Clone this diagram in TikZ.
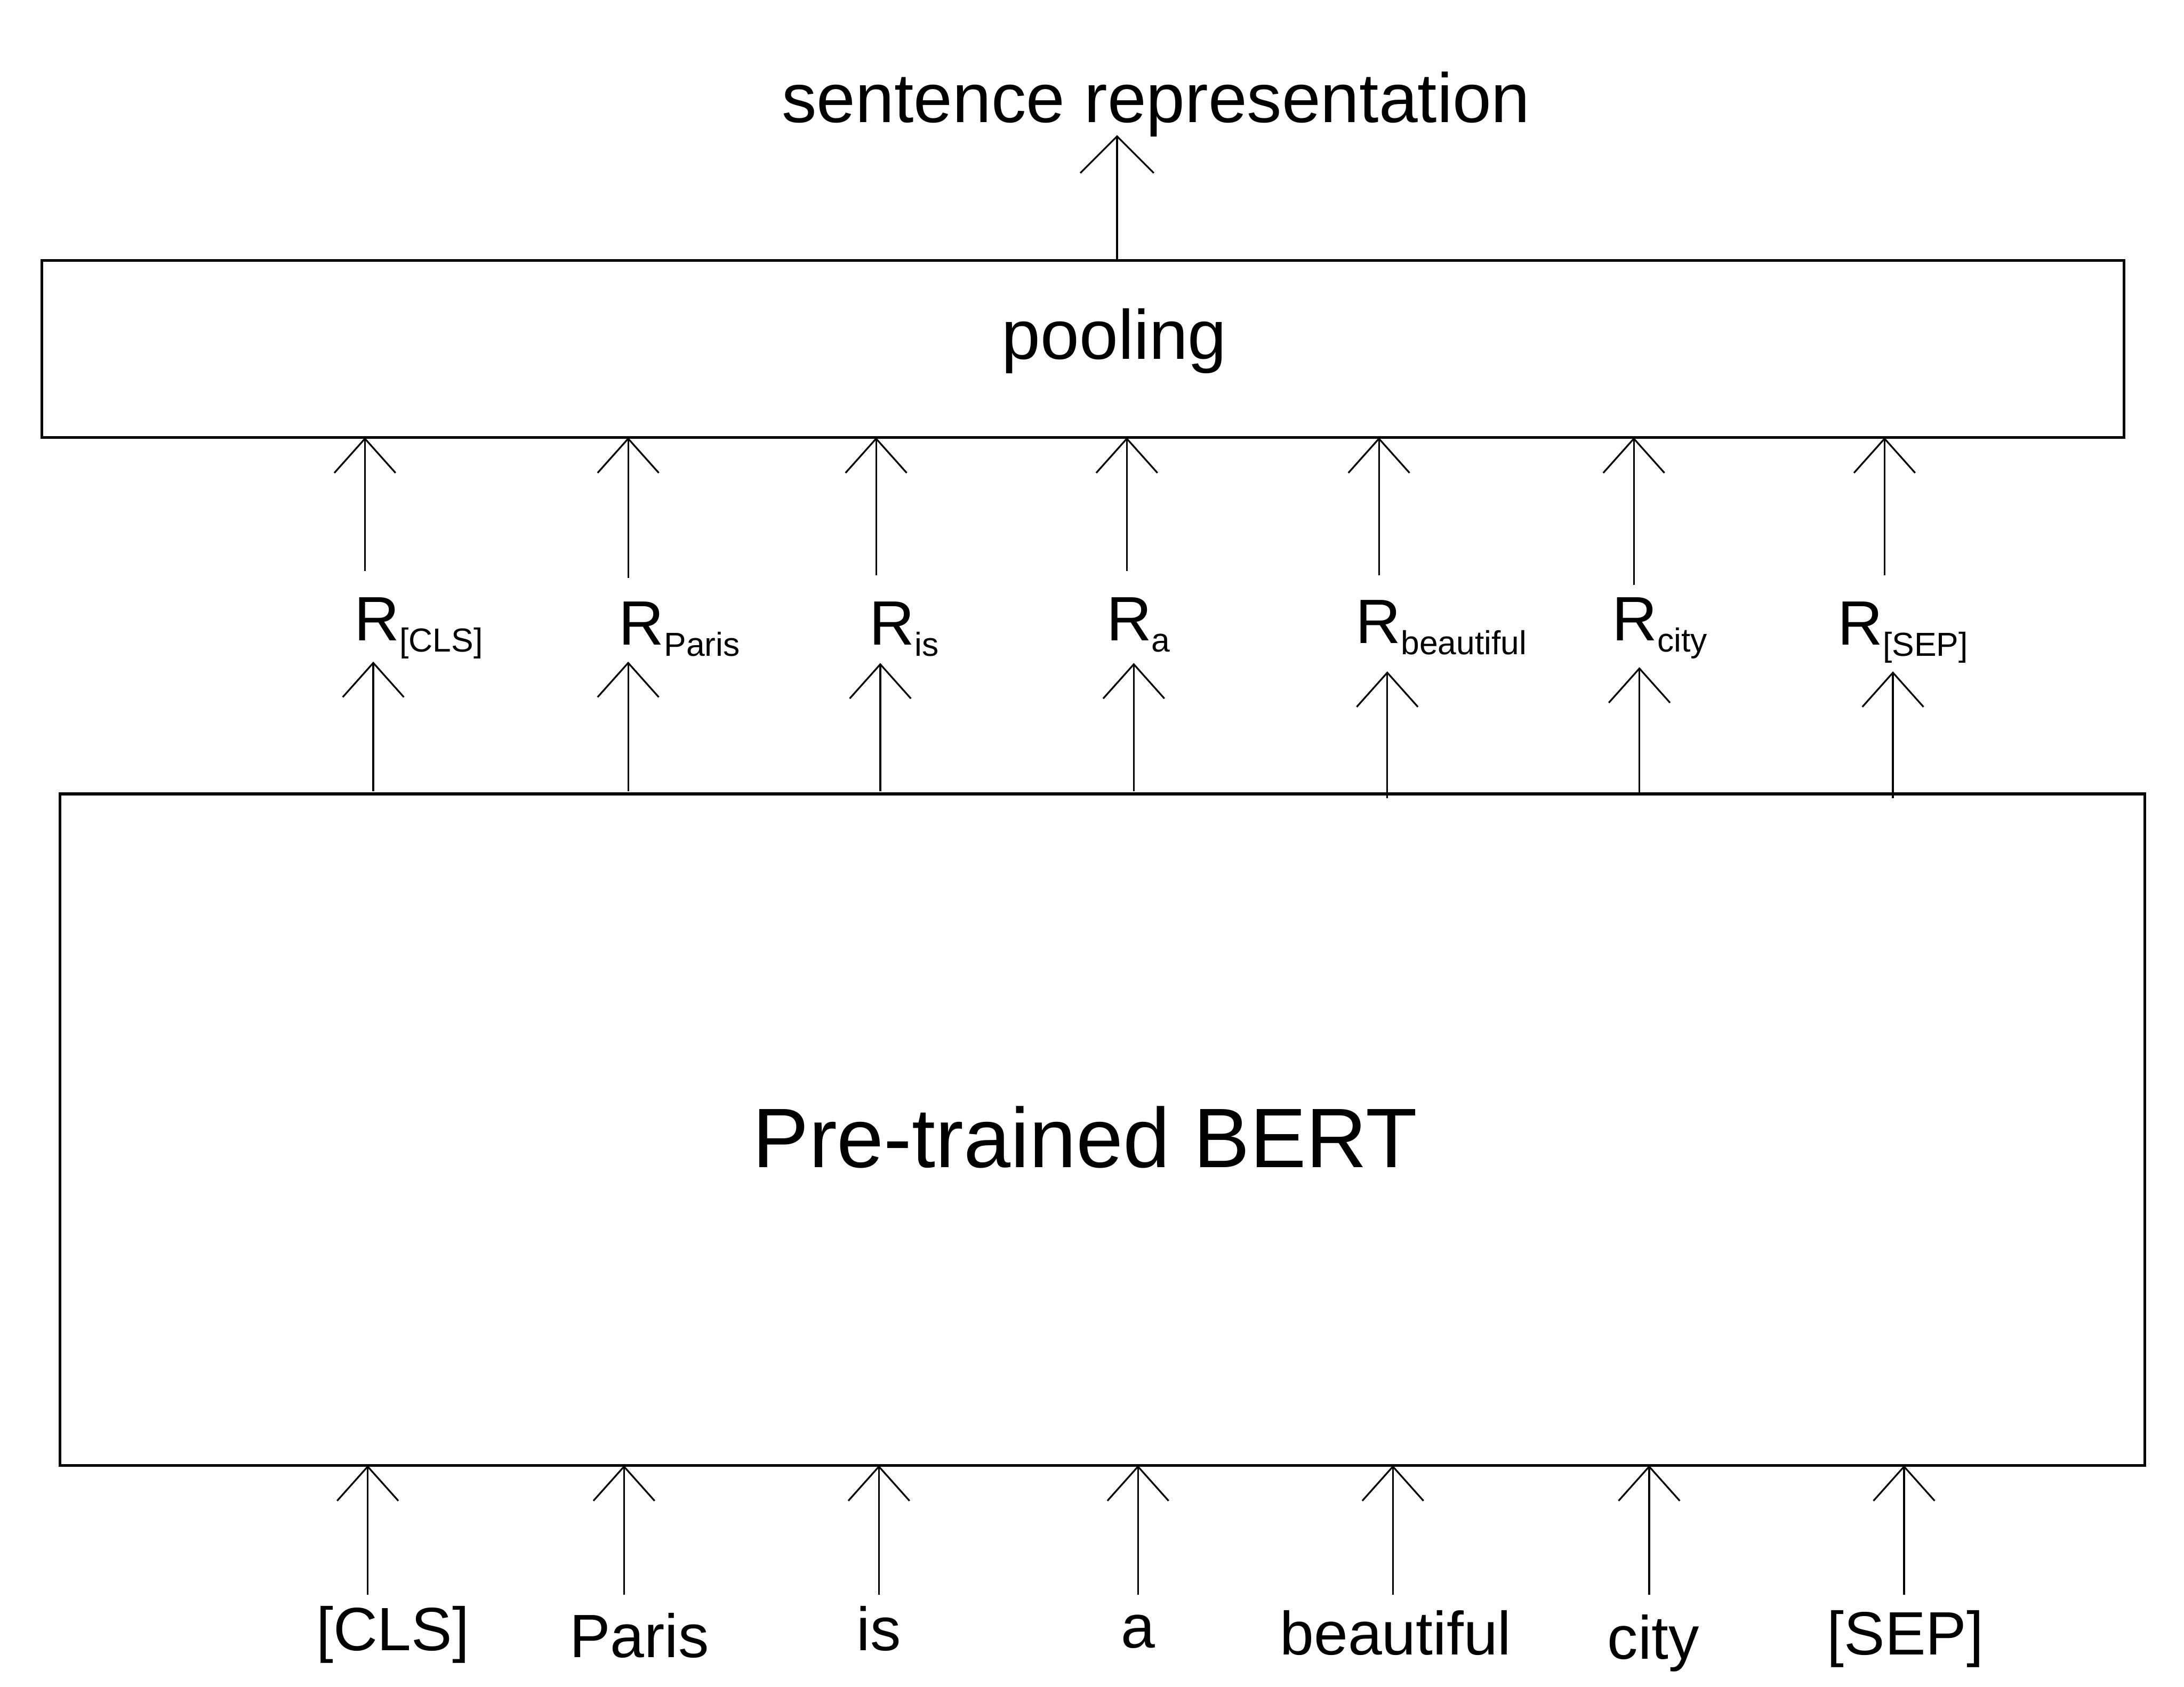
\documentclass[tikz,border=0pt]{standalone}
\usepackage{fontspec}
\setmainfont{Liberation Sans}
\usetikzlibrary{arrows.meta}
\newcommand\rsub[1]{\raisebox{-4.5pt}{\fontsize{13.6}{15}\selectfont #1}}
\begin{document}
\begin{tikzpicture}[x=0.02cm,y=-0.02cm,
  box/.style={draw,line width=1.1pt},
  arr/.style={line width=0.7pt,-{Straight Barb[length=14pt,width=25pt,line width=0.7pt]}},
  bigarr/.style={line width=0.7pt,-{Straight Barb[length=15pt,width=30pt,line width=0.7pt]}},
  big/.style={font=\fontsize{28.5}{30}\selectfont,inner sep=0},
  rl/.style={font=\fontsize{25.6}{27}\selectfont,inner sep=0,anchor=base west},
  wl/.style={font=\fontsize{25}{27}\selectfont,inner sep=0,anchor=base}]
\useasboundingbox (0,0) rectangle (1568,1211);
% boxes
\draw[box] (30,187) rectangle (1525,314);
\draw[box] (43,570) rectangle (1540,1052);
\node[big,anchor=base] (pool) at (800,258) {pooling};
\node[inner sep=0,anchor=base,font=\fontsize{34.5}{36}\selectfont] (bert) at (779,838) {Pre-trained BERT};
\node[big,anchor=base] (title) at (830,88) {sentence representation};
\coordinate (tb) at (802,187);
\coordinate (tt) at (802,97);
\draw[bigarr] (tb) -- (tt);
% R labels
\node[rl] (r1) at (254,460) {R\rsub{[CLS]}};
\node[rl] (r2) at (444,463) {R\rsub{Paris}};
\node[rl] (r3) at (624,463) {R\rsub{is}};
\node[rl] (r4) at (794,460) {R\rsub{a}};
\node[rl] (r5) at (973,462) {R\rsub{beautiful}};
\node[rl] (r6) at (1157,460) {R\rsub{city}};
\node[rl] (r7) at (1319,463) {R\rsub{[SEP]}};
% word labels
\node[wl] (w1) at (282,1185) {[CLS]};
\node[wl] (w2) at (459,1190) {Paris};
\node[wl] (w3) at (631,1185) {is};
\node[wl] (w4) at (817,1183) {a};
\node[wl] (w5) at (1002,1188) {beautiful};
\node[wl] (w6) at (1187,1191) {city};
\node[wl] (w7) at (1368,1188) {[SEP]};
% arrows R -> pooling
\foreach \x/\b in {262/410, 451/415, 629/413, 809/410, 990/413, 1173/420, 1353/413}{
  \coordinate (ua) at (\x,\b);
  \coordinate (ub) at (\x,314);
  \draw[arr] (ua) -- (ub);
}
% arrows BERT -> R
\foreach \x/\t/\b in {268/475/568, 451/475/568, 632/476/568, 814/476/568, 996/482/573, 1177/479/571, 1359/482/573}{
  \coordinate (ma) at (\x,\b);
  \coordinate (mb) at (\x,\t);
  \draw[arr] (ma) -- (mb);
}
% arrows words -> BERT
\foreach \x in {264, 448, 631, 817, 1000, 1184, 1367}{
  \coordinate (la) at (\x,1145);
  \coordinate (lb) at (\x,1052);
  \draw[arr] (la) -- (lb);
}
\end{tikzpicture}
\end{document}
